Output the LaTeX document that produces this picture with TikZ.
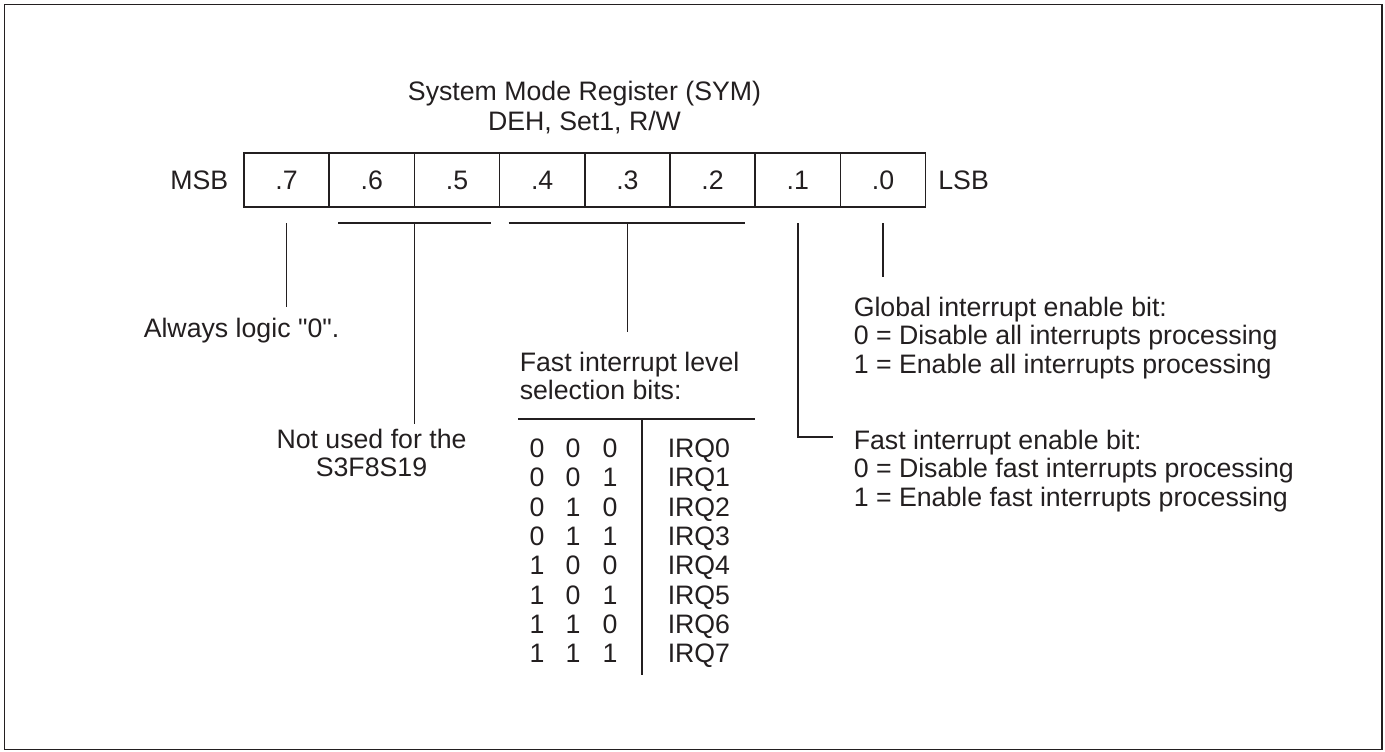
\documentclass[tikz,border=0pt]{standalone}
\usepackage{fontspec}
\setmainfont{Liberation Sans}[Ligatures=TeXOff]
\usetikzlibrary{positioning}
\definecolor{ink}{HTML}{231F20}

\begin{document}
\begin{tikzpicture}[
    x=0.5pt, y=-0.5pt,
    line width=0.75pt,
    every node/.style={
        text=ink,
        inner sep=0pt,
        font=\fontsize{13.35}{14.25}\selectfont
    },
    bitcell/.style={
        draw=ink,
        minimum width=42.6pt,
        minimum height=27pt,
        outer sep=0pt
    },
    wire/.style={draw=ink}
]
  \useasboundingbox (0,0) rectangle (1385,751);
  \draw[wire] (4.5,4.5) rectangle (1382,749.5);

  % register cells
  \node[bitcell,anchor=north west] (b7) at (244,153) {.7};
  \foreach \n [remember=\n as \p (initially 7)] in {6,5,4,3,2,1,0}
    \node[bitcell,right=0pt of b\p] (b\n) {.\n};
  \node[left=7.5pt of b7] (msb) {MSB};
  \node[right=6pt of b0] (lsb) {LSB};
  \node[align=center] (title) at (584.5,108) {System Mode Register (SYM)\\[0.75pt]DEH, Set1, R/W};

  % descriptions
  \node[anchor=base west] (always) at (143,337) {Always logic "0".};
  \node[align=center,anchor=north] (notused) at (371.5,428) {Not used for the\\S3F8S19};
  \node[align=left,anchor=north west] (fastlvl) at (519,351) {Fast interrupt level\\selection bits:};
  \node[align=left,anchor=north west] (global) at (853,296) {Global interrupt enable bit:\\0 = Disable all interrupts processing\\1 = Enable all interrupts processing};
  \node[align=left,anchor=north west] (fastbit) at (853,429) {Fast interrupt enable bit:\\0 = Disable fast interrupts processing\\1 = Enable fast interrupts processing};

  % level table
  \coordinate (tl) at (518,419);
  \coordinate (tr) at (755,419);
  \coordinate (tm) at (642,419);
  \coordinate (tb) at (642,675);
  \draw[wire] (tl) -- (tr);
  \draw[wire] (tm) -- (tb);
  \foreach \a/\b/\c [count=\i from 0] in {0/0/0,0/0/1,0/1/0,0/1/1,1/0/0,1/0/1,1/1/0,1/1/1} {
    \pgfmathsetmacro\ry{457.6+29.3*\i}
    \node[anchor=base] (lv\i-2) at (537,\ry) {\a};
    \node[anchor=base] (lv\i-1) at (573,\ry) {\b};
    \node[anchor=base] (lv\i-0) at (610,\ry) {\c};
    \node[anchor=base west] (irq\i) at (667,\ry) {IRQ\i};
  }

  % connectors
  \coordinate (top7) at ([yshift=-8pt]b7.south);
  \coordinate (l65) at ([xshift=4.5pt,yshift=-8pt]b6.south west);
  \coordinate (r65) at ([xshift=-4.5pt,yshift=-8pt]b5.south east);
  \coordinate (m65) at ([yshift=-8pt]b6.south east);
  \coordinate (l42) at ([xshift=4.5pt,yshift=-8pt]b4.south west);
  \coordinate (r42) at ([xshift=-5pt,yshift=-8pt]b2.south east);
  \coordinate (m42) at ([yshift=-8pt]b3.south);
  \coordinate (top1) at ([yshift=-8pt]b1.south);
  \coordinate (top0) at ([yshift=-8pt]b0.south);

  \draw[wire,shorten >=5pt] (top7) -- (top7 |- always.north);
  \draw[wire] (l65) -- (r65);
  \draw[wire,shorten >=2pt] (m65) -- (m65 |- notused.north);
  \draw[wire] (l42) -- (r42);
  \draw[wire,shorten >=9.5pt] (m42) -- (m42 |- fastlvl.north);
  \draw[wire] (top1) |- ([xshift=-10pt,yshift=-4pt]fastbit.north west);
  \draw[wire,shorten >=9.5pt] (top0) -- (top0 |- global.north);
\end{tikzpicture}
\end{document}
